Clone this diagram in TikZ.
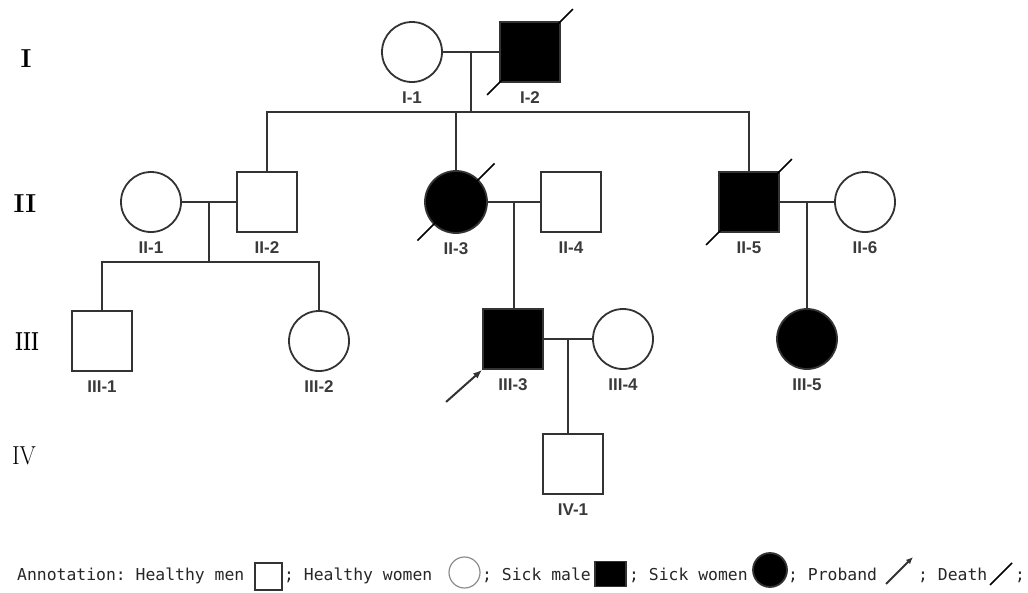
\documentclass[tikz,border=0pt]{standalone}
\usepackage{fontspec}
\setsansfont{Liberation Sans}
\setmonofont{DejaVu Sans Mono}
\usepackage{graphicx}
\usepackage{xcolor}
\definecolor{pedLine}{HTML}{333333}
\definecolor{pedText}{HTML}{3A3A3A}
\usepackage{tikz}
\usetikzlibrary{arrows.meta, positioning}

\begin{document}
\begin{tikzpicture}[
		x=1pt, y=1pt,
		male/.style={
			rectangle,
			draw=pedLine,
			line width=1.8pt,
			minimum size=60pt,
			inner sep=0pt
		},
		female/.style={
			circle,
			draw=pedLine,
			line width=1.8pt,
			minimum size=60pt,
			inner sep=0pt
		},
		sick/.style={fill=black},
		lbl/.style={font=\fontsize{17}{17}\selectfont\sffamily\bfseries, text=pedText, inner sep=1pt},
		gen/.style={font=\fontsize{26}{26}\selectfont\bfseries, inner sep=0pt},
		legtext/.style={font=\fontsize{16.4}{16.4}\selectfont\ttfamily, text=black!85, inner sep=0pt, anchor=base west},
		link/.style={draw=pedLine, line width=2pt},
		deathmark/.style={draw=black, line width=1.6pt},
		label distance=8pt
		]
		
		\useasboundingbox (0,0) rectangle (1028,-592);
		
		\node[gen] (g1) at (26,-59) {I};
		\node[gen] (g2) at (25,-204) {II};
		\node[gen] (g3) at (27,-342) {\scalebox{0.68}[1]{III}};
		\node[gen, font=\fontsize{26}{26}\selectfont] (g4) at (24,-456) {\scalebox{0.9}[1]{IV}};
		
		\node[female, label={[lbl]below:I-1}] (i1) at (412,-52) {};
		\node[male, sick, label={[lbl]below:I-2}] (i2) at (530,-52) {};
		
		\node[female, label={[lbl]below:II-1}] (ii1) at (151,-202) {};
		\node[male, label={[lbl]below:II-2}] (ii2) at (267,-202) {};
		\node[female, sick, minimum size=62pt, label={[lbl]below:II-3}] (ii3) at (456,-202) {};
		\node[male, label={[lbl]below:II-4}] (ii4) at (571,-202) {};
		\node[male, sick, label={[lbl]below:II-5}] (ii5) at (749,-202) {};
		\node[female, label={[lbl]below:II-6}] (ii6) at (865,-202) {};
		
		\node[male, label={[lbl]below:III-1}] (iii1) at (102,-341) {};
		\node[female, label={[lbl]below:III-2}] (iii2) at (319,-341) {};
		\node[male, sick, label={[lbl]below:III-3}] (iii3) at (513,-339) {};
		\node[female, label={[lbl]below:III-4}] (iii4) at (623,-339) {};
		\node[female, sick, label={[lbl]below:III-5}] (iii5) at (807,-339) {};
		
		\node[male, label={[lbl]below:IV-1}] (iv1) at (573,-464) {};
		
		\draw[link] (i1) -- coordinate (m1) (i2);
		\draw[link] (m1) -- ++(0,-60) coordinate (s1);
		\draw[link] (ii2.north) |- (s1) -| (ii5.north);
		\draw[link] (ii3) -- (ii3 |- s1);
		
		\draw[link] (ii1) -- coordinate (m2) (ii2);
		\draw[link] (m2) -- ++(0,-60) coordinate (s2);
		\draw[link] (iii1.north) |- (s2) -| (iii2.north);
		
		\draw[link] (ii3) -- coordinate (m3) (ii4);
		\draw[link] (m3) -- (m3 |- iii3.north);
		
		\draw[link] (ii5) -- coordinate (m4) (ii6);
		\draw[link] (m4) -- (m4 |- iii5.north);
		
		\draw[link] (iii3) -- coordinate (m5) (iii4);
		\draw[link] (m5) -- (m5 |- iv1.north);
		
		\draw[deathmark] ([shift={(-12,-12)}]i2.south west) -- ([shift={(12,12)}]i2.north east);
		\draw[deathmark] ([shift={(-16,-16)}]ii3.south west) -- ([shift={(16,16)}]ii3.north east);
		\draw[deathmark] ([shift={(-12,-12)}]ii5.south west) -- ([shift={(12,12)}]ii5.north east);
		
		\draw[link, -{Latex[length=9pt, width=7pt]}] ([shift={(-36,-32)}]iii3.south west) -- (iii3.south west);
		
		\node[legtext] (t1) at (17,-580.5) {Annotation: Healthy men};
		\node[male, line width=1.5pt, minimum size=27pt] (k1) at (268.5,-576.5) {};
		\node[legtext] (t2) at (284,-580.5) {; Healthy women};
		\node[female, draw=black!45, line width=1.2pt, minimum size=31pt] (k2) at (464.5,-572.5) {};
		\node[legtext] (t3) at (482,-580.5) {; Sick male};
		\node[male, sick, minimum width=31pt, minimum height=25pt] (k3) at (610.5,-574) {};
		\node[legtext] (t4) at (629,-580.5) {; Sick women};
		\node[female, sick, minimum size=34pt] (k4) at (770,-570) {};
		\node[legtext] (t5) at (788,-580.5) {; Proband};
		\coordinate (p1) at (886,-584);
		\coordinate (p2) at (913,-557);
		\draw[link, -{Latex[length=7pt, width=6pt]}] (p1) -- (p2);
		\node[legtext] (t6) at (918,-580.5) {; Death};
		\coordinate (d1) at (990,-585);
		\coordinate (d2) at (1012,-563);
		\draw[deathmark] (d1) -- (d2);
		\node[legtext] (t7) at (1015,-580.5) {;};
		
	\end{tikzpicture}
\end{document}
